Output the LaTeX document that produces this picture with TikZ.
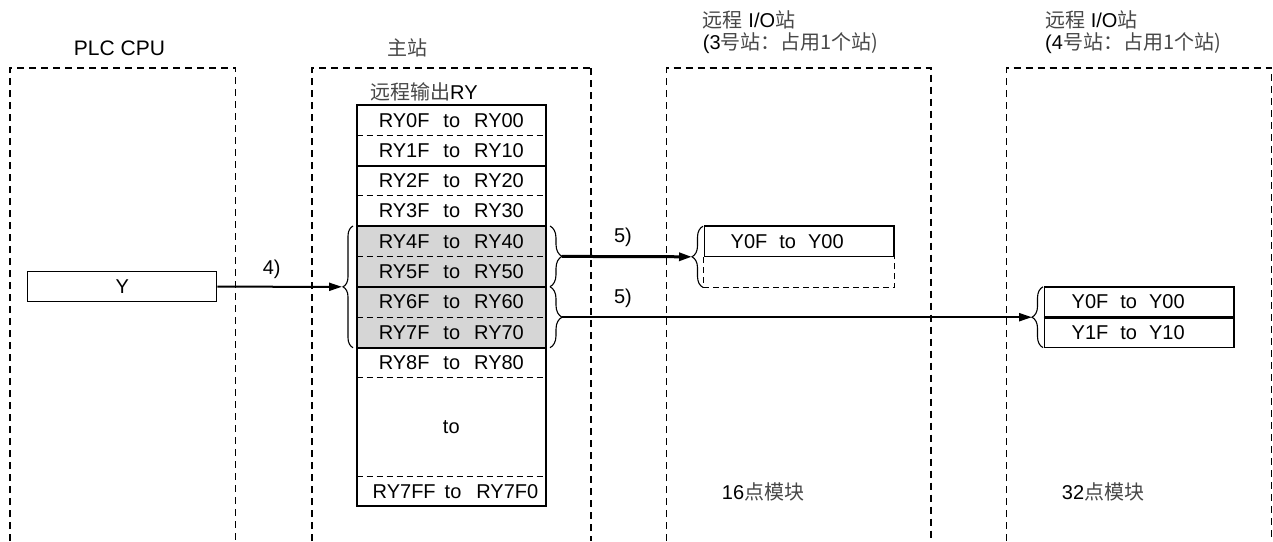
\documentclass[tikz,border=0pt]{standalone}
\usepackage{fontspec}
\setmainfont{Liberation Sans}
\newfontfamily\cjk{Noto Sans CJK SC}
\usetikzlibrary{arrows.meta,decorations.pathreplacing}
\newcommand\zh[1]{{\cjk\color{black!72}#1}}
\newcommand\tto{\hspace{14pt}to\hspace{14pt}}
\newcommand\yto{\hspace{12pt}to\hspace{12pt}}
\begin{document}
\begin{tikzpicture}[x=1pt,y=-1pt,
  every node/.style={inner sep=0pt,font=\fontsize{20}{24}\selectfont},
  col/.style={line width=1.1pt,dash pattern=on 7pt off 5pt},
  colb/.style={line width=2pt,dash pattern=on 7pt off 5pt},
  cell/.style={minimum width=189.3pt,minimum height=30.3pt},
  sepd/.style={line width=1.1pt,dash pattern=on 6pt off 4pt},
  seps/.style={line width=1.6pt},
  sepb/.style={line width=2.4pt},
  brc/.style={line width=1.1pt,decorate,decoration={brace,amplitude=#1}},
  brc/.default=11pt,
  arr/.style={line width=2pt,-{Triangle[length=13pt,width=8pt]}},
  mbox/.style={draw,line width=1.5pt,minimum width=189.7pt,minimum height=30.4pt}
]
\useasboundingbox (0,0) rectangle (1273,541);
% station columns
\draw[col] (10,541) -- (10,68) -- (235.6,68) -- (235.6,541);
\draw[col] (312,541) -- (312,68) -- (590.7,68);
\draw[colb] (590.7,68) -- (590.7,541);
\draw[col] (666.7,541) -- (666.7,68) -- (931,68) -- (931,541);
\draw[col] (1006.7,541) -- (1006.7,68) -- (1271.7,68) -- (1271.7,541);
% titles
\node[font=\fontsize{21}{24}\selectfont] (tcpu) at (119.5,48) {PLC CPU};
\node (tms) at (407,48) {\zh{主站}};
\node[anchor=west] (t3a) at (702.7,20) {\zh{远程} I/O\zh{站}};
\node[anchor=west] (t3b) at (702.7,43) {(3\zh{号站：占用1个站)}};
\node[anchor=west] (t4a) at (1045,20) {\zh{远程} I/O\zh{站}};
\node[anchor=west] (t4b) at (1045,43) {(4\zh{号站：占用1个站)}};
\node[anchor=west] (try) at (370,91.5) {\zh{远程输出}RY};
% PLC Y box
\node[mbox,minimum width=189pt,minimum height=30pt] (ybox) at (122.2,286.7) {Y};
% register table
\fill[black!16] (356.7,226) rectangle (546,347.7);
\node[cell] (r0) at (451.3,120.3) {RY0F\tto RY00};
\node[cell] (r1) at (451.3,150.8) {RY1F\tto RY10};
\node[cell] (r2) at (451.3,180.8) {RY2F\tto RY20};
\node[cell] (r3) at (451.3,210.8) {RY3F\tto RY30};
\node[cell] (r4) at (451.3,241.2) {RY4F\tto RY40};
\node[cell] (r5) at (451.3,271.6) {RY5F\tto RY50};
\node[cell] (r6) at (451.3,302.0) {RY6F\tto RY60};
\node[cell] (r7) at (451.3,332.5) {RY7F\tto RY70};
\node[cell] (r8) at (451.3,362.7) {RY8F\tto RY80};
\node[cell,minimum height=99pt] (rto) at (451.3,427.2) {to};
\node[cell] (rl) at (455.5,491.5) {RY7FF\hspace{9pt}to\hspace{15pt}RY7F0};
\draw[sepd] (356.7,135.5) -- (546,135.5);
\draw[seps] (356.7,166) -- (546,166);
\draw[sepd] (356.7,195.5) -- (546,195.5);
\draw[sepb] (356.7,226) -- (546,226);
\draw[sepd] (356.7,256.5) -- (546,256.5);
\draw[sepb] (356.7,286.7) -- (546,286.7);
\draw[sepd] (356.7,317.3) -- (546,317.3);
\draw[sepb] (356.7,347.7) -- (546,347.7);
\draw[sepd] (356.7,377.7) -- (546,377.7);
\draw[sepd] (356.7,476.7) -- (546,476.7);
\draw[line width=2pt] (356.7,105) rectangle (546,506);
% braces on master
\draw[brc=10pt] (353,347.7) -- (353,226);
\coordinate (lbt) at (342,286.8);
\draw[brc=12pt] (550,226) -- (550,286.7);
\coordinate (rb1) at (562,256.4);
\draw[brc=12pt] (550,286.7) -- (550,347.7);
\coordinate (rb2) at (562,317.2);
% station 3 module
\node[mbox] (y3) at (799.2,241.4) {Y0F\yto Y00\kern24pt};
\draw[sepd] (y3.south west) -- ++(0,30.4) -| (y3.south east);
\draw[brc=11pt] (703,287.4) -- (703,226.2);
\coordinate (s3t) at (692,256.8);
% station 4 module
\node[mbox] (y4a) at (1139.2,302) {Y0F\yto Y00\kern22pt};
\node[mbox] (y4b) at (1139.2,332.4) {Y1F\yto Y10\kern22pt};
\draw[line width=2pt] (y4a.south west) -- (y4a.south east);
\draw[brc=11pt] (1043,347.6) -- (1043,286.8);
\coordinate (s4t) at (1032,317.2);
% arrows
\draw[arr] (ybox.east) -- (lbt);
\node (l4) at (271.7,269) {4)};
\draw[arr,line width=3pt] (rb1) -- (s3t);
\node (l5a) at (623,237) {5)};
\draw[arr] (rb2) -- (s4t);
\node (l5b) at (623,298) {5)};
% bottom labels
\node[anchor=west] (b16) at (721.7,491.7) {16\zh{点模块}};
\node[anchor=west] (b32) at (1061.7,491.7) {32\zh{点模块}};
\end{tikzpicture}
\end{document}
